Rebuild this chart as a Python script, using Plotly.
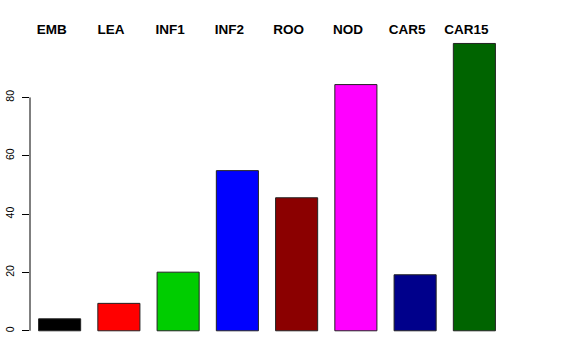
import plotly.graph_objects as go

categories = ["EMB", "LEA", "INF1", "INF2", "ROO", "NOD", "CAR5", "CAR15"]
values = [4.1, 9.4, 20.1, 54.9, 45.6, 84.4, 19.2, 98.5]
colors = ["#000000", "#FF0000", "#00CD00", "#0000FF", "#8B0000", "#FF00FF", "#00008B", "#006400"]
y_ticks = [0, 20, 40, 60, 80]

fig = go.Figure(go.Bar(
    x=categories, y=values,
    marker=dict(color=colors, line=dict(color="#222222", width=1)),
    cliponaxis=False,
))

fig.update_layout(
    width=576, height=360,
    margin=dict(l=29.7, r=72.3, t=41.6, b=19.1),
    paper_bgcolor="white", plot_bgcolor="white",
    bargap=0.29, showlegend=False,
    font=dict(family="Liberation Sans, Arial, sans-serif", color="black"),
)
fig.update_xaxes(
    side="top", range=[-0.5, 7.5], showgrid=False, showline=False, zeroline=False,
    ticks="", tickfont=dict(size=13.5, family="Liberation Sans, Arial", weight="bold"),
    ticklabelshift=-8, ticklabelstandoff=4, automargin=False,
)
fig.update_yaxes(
    range=[-3.5, 99], tickvals=y_ticks, ticktext=[str(v) for v in y_ticks],
    tickangle=-90, ticks="outside", ticklen=7, tickcolor="black", tickwidth=1,
    showgrid=False, zeroline=False, showline=False, automargin=False,
    tickfont=dict(size=10.5), ticklabelstandoff=4,
)
fig.add_shape(type="line", xref="paper", yref="y", x0=0, x1=0,
              y0=min(y_ticks), y1=max(y_ticks), line=dict(color="black", width=1))

fig.write_html(
    "out.html",
    config={"displayModeBar": False},
    post_script="document.body.style.margin='0';document.body.style.overflow='hidden';",
)
